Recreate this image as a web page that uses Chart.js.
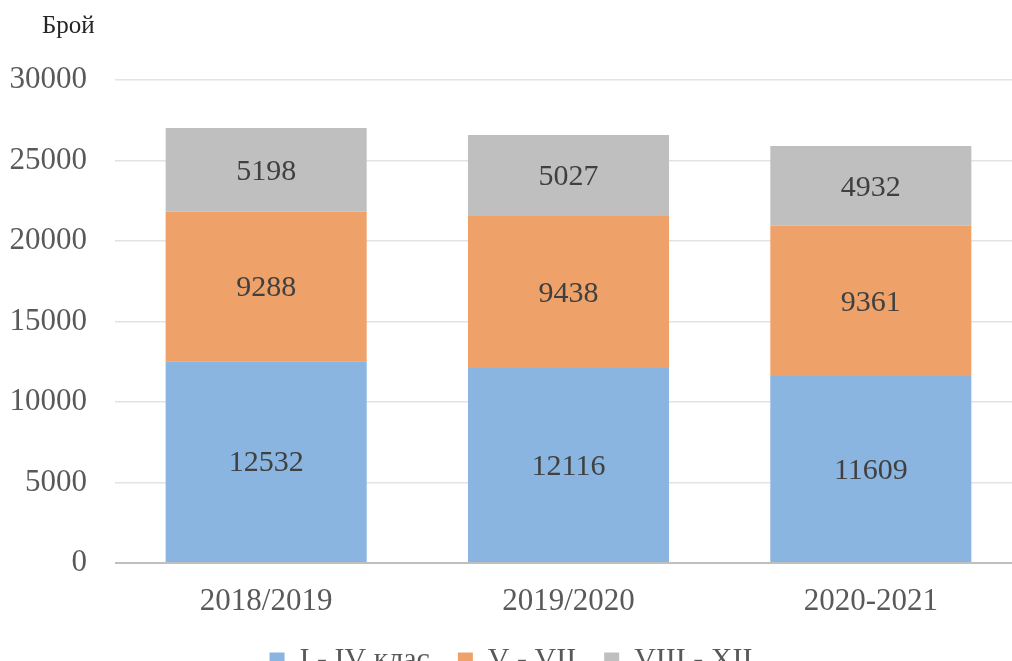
<!DOCTYPE html>
<html>
<head>
<meta charset="utf-8">
<script src="https://cdn.jsdelivr.net/npm/chart.js@4"></script>
<style>
html,body{margin:0;padding:0;background:#fff;overflow:hidden;width:1012px;height:661px;}
#wrap{position:absolute;left:0;top:0;width:1024px;height:685px;}
</style>
</head>
<body>
<div id="wrap"><canvas id="c" width="1024" height="685"></canvas></div>
<script>
const categories = ['2018/2019', '2019/2020', '2020-2021'];
const seriesNames = ['I - IV клас', 'V - VII', 'VIII - XII'];
const grades1to4 = [12532, 12116, 11609];
const grades5to7 = [9288, 9438, 9361];
const grades8to12 = [5198, 5027, 4932];
const yTicks = [0, 5000, 10000, 15000, 20000, 25000, 30000];
const axisTitle = 'Брой';

const FONT = '"Liberation Serif", "Times New Roman", serif';

const labelPlugin = {
  id: 'barLabels',
  afterDatasetsDraw(chart) {
    const ctx = chart.ctx;
    ctx.save();
    ctx.font = '30px ' + FONT;
    ctx.fillStyle = '#404040';
    ctx.textAlign = 'center';
    ctx.textBaseline = 'middle';
    chart.data.datasets.forEach((ds, i) => {
      const meta = chart.getDatasetMeta(i);
      meta.data.forEach((bar, j) => {
        const y = (bar.y + bar.base) / 2;
        ctx.fillText(String(ds.data[j]), bar.x, y + 2);
      });
    });
    ctx.restore();
  },
  afterDraw(chart) {
    const ctx = chart.ctx;
    ctx.save();
    ctx.font = '25px ' + FONT;
    ctx.fillStyle = '#262626';
    ctx.textAlign = 'left';
    ctx.textBaseline = 'alphabetic';
    ctx.fillText(axisTitle, 42, 33);
    ctx.restore();
  }
};

new Chart(document.getElementById('c'), {
  type: 'bar',
  data: {
    labels: categories,
    datasets: [
      { label: seriesNames[0], data: grades1to4, backgroundColor: '#8AB5E0' },
      { label: seriesNames[1], data: grades5to7, backgroundColor: '#EEA26A' },
      { label: seriesNames[2], data: grades8to12, backgroundColor: '#BFBFBF' }
    ]
  },
  options: {
    responsive: false,
    animation: false,
    layout: { padding: { top: 80, right: 2, left: 0, bottom: 0 } },
    datasets: { bar: { barPercentage: 0.665, categoryPercentage: 1 } },
    plugins: {
      tooltip: { enabled: false },
      legend: {
        position: 'bottom',
        labels: {
          font: { family: FONT, size: 30 },
          color: '#595959',
          boxWidth: 15,
          boxHeight: 15,
          padding: 28
        }
      }
    },
    scales: {
      x: {
        stacked: true,
        afterFit(scale) { scale.height = 54; },
        grid: { display: false },
        border: { display: false },
        ticks: { font: { family: FONT, size: 31 }, color: '#595959', padding: 12 }
      },
      y: {
        stacked: true,
        min: 0,
        max: 30000,
        afterFit(scale) { scale.width = 115; },
        afterBuildTicks(scale) { scale.ticks = yTicks.map(v => ({ value: v })); },
        grid: {
          drawTicks: false,
          color: ctx => (ctx.tick && ctx.tick.value === 0) ? '#BFBFBF' : '#E3E3E3',
          lineWidth: ctx => (ctx.tick && ctx.tick.value === 0) ? 2 : 1.5
        },
        border: { display: false },
        ticks: {
          font: { family: FONT, size: 31 },
          color: '#595959',
          padding: 28,
          callback: v => String(v)
        }
      }
    }
  },
  plugins: [labelPlugin]
});
</script>
</body>
</html>
